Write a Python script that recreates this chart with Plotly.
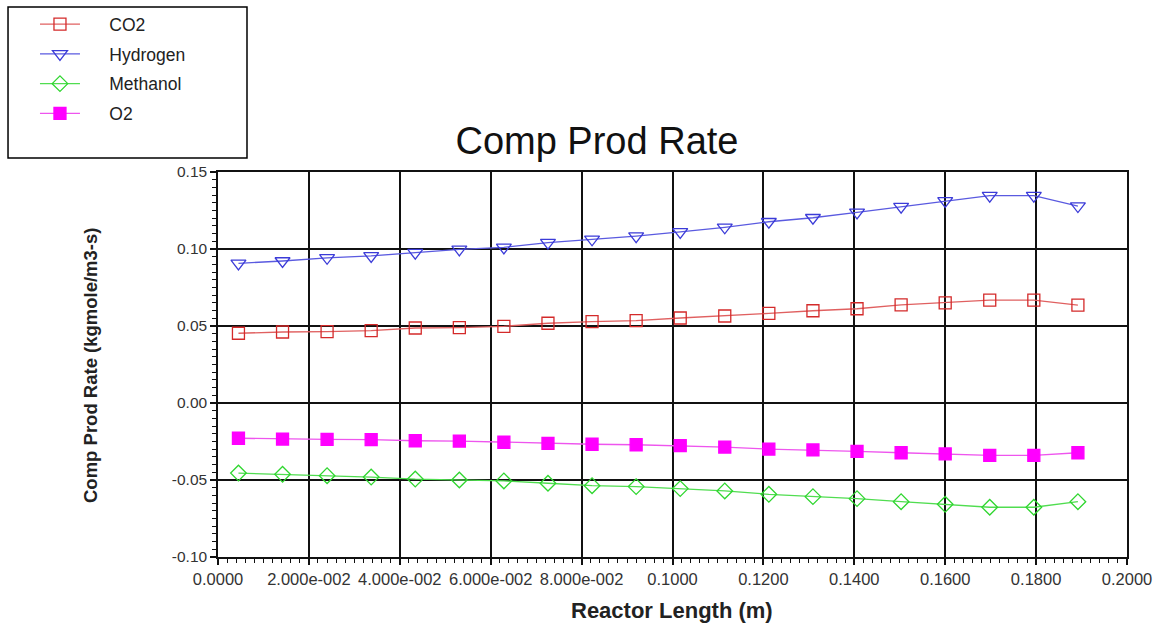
import plotly.graph_objects as go

# Reactor axial positions (m)
reactor_length = [0.0045, 0.0142, 0.0240, 0.0337, 0.0434, 0.0531, 0.0629, 0.0726, 0.0823, 0.0920,
                  0.1017, 0.1115, 0.1212, 0.1309, 0.1406, 0.1503, 0.1600, 0.1698, 0.1795, 0.1892]

# Component production rates (kgmole/m3-s)
co2 = [0.0453, 0.0461, 0.0464, 0.0470, 0.0487, 0.0490, 0.0498, 0.0518, 0.0528, 0.0535,
       0.0552, 0.0565, 0.0582, 0.0599, 0.0612, 0.0637, 0.0650, 0.0668, 0.0668, 0.0636]
hydrogen = [0.0907, 0.0922, 0.0943, 0.0955, 0.0976, 0.0998, 0.1011, 0.1041, 0.1063, 0.1084,
            0.1111, 0.1141, 0.1177, 0.1203, 0.1238, 0.1275, 0.1312, 0.1346, 0.1346, 0.1279]
methanol = [-0.0455, -0.0463, -0.0472, -0.0481, -0.0494, -0.0500, -0.0506, -0.0521, -0.0537, -0.0543,
            -0.0556, -0.0571, -0.0593, -0.0608, -0.0621, -0.0641, -0.0658, -0.0677, -0.0677, -0.0641]
o2 = [-0.0229, -0.0234, -0.0236, -0.0238, -0.0245, -0.0247, -0.0255, -0.0262, -0.0268, -0.0271,
      -0.0277, -0.0286, -0.0299, -0.0305, -0.0314, -0.0323, -0.0331, -0.0340, -0.0340, -0.0323]

x_tickvals = [0.0, 0.02, 0.04, 0.06, 0.08, 0.10, 0.12, 0.14, 0.16, 0.18, 0.20]
x_ticktext = ["0.0000", "2.000e-002", "4.000e-002", "6.000e-002", "8.000e-002",
              "0.1000", "0.1200", "0.1400", "0.1600", "0.1800", "0.2000"]
y_tickvals = [-0.10, -0.05, 0.00, 0.05, 0.10, 0.15]
y_ticktext = ["-0.10", "-0.05", "0.00", "0.05", "0.10", "0.15"]

x_title = "Reactor Length (m)"
y_title = "Comp Prod Rate (kgmole/m3-s)"

series = [
    ("CO2", co2, "#d42a2a", "#e06060", dict(symbol="square-open", size=12)),
    ("Hydrogen", hydrogen, "#3b3bd8", "#5a5ae0", dict(symbol="triangle-down-open", size=13)),
    ("Methanol", methanol, "#2fd62f", "#50dd50", dict(symbol="diamond-open", size=12)),
    ("O2", o2, "#ff00ff", "#ee55ee", dict(symbol="square", size=12)),
]

fig = go.Figure()
pad = "\u00a0" * 5
for name, vals, mcol, lcol, mk in series:
    fig.add_trace(go.Scatter(
        x=reactor_length, y=vals, name=pad + name, legendgroup=name,
        mode="lines+markers",
        line=dict(color=lcol, width=1.3),
        marker=dict(color=mcol, line=dict(color=mcol, width=1.3), **mk),
    ))

font_family = "Liberation Sans, Arial, sans-serif"

fig.update_layout(
    width=1158, height=626,
    margin=dict(l=218, r=31, t=172, b=69, autoexpand=False),
    paper_bgcolor="white", plot_bgcolor="white",
    font=dict(family=font_family, color="#222222"),
    title=dict(text="Comp Prod Rate", x=0.5155, xanchor="center", y=0.775, yanchor="middle",
               font=dict(size=38, color="#111111", family=font_family)),
    legend=dict(xref="container", yref="container", x=0.0302, xanchor="left", y=0.990, yanchor="top",
                bgcolor="rgba(0,0,0,0)", borderwidth=0, itemwidth=40,
                tracegroupgap=4, font=dict(size=17.5, color="#222222"),
                traceorder="grouped"),
    showlegend=True,
    shapes=[dict(type="rect", xref="paper", yref="paper",
                 x0=-0.2310, x1=0.0319, y0=1.0364, y1=1.4286,
                 line=dict(color="black", width=1.5), fillcolor="rgba(0,0,0,0)")],
    annotations=[
        dict(text="<b>" + x_title + "</b>", xref="paper", yref="paper", x=0.4994, y=-0.1377,
             xanchor="center", yanchor="middle", showarrow=False,
             font=dict(size=22, color="#222222")),
        dict(text="<b>" + y_title + "</b>", xref="paper", yref="paper", x=-0.1408, y=0.4987,
             xanchor="center", yanchor="middle", showarrow=False, textangle=-90,
             font=dict(size=18.5, color="#222222")),
    ],
)

fig.update_xaxes(
    range=[0, 0.2], tickvals=x_tickvals, ticktext=x_ticktext,
    showgrid=True, gridcolor="#111111", gridwidth=1.5,
    showline=True, linecolor="#111111", linewidth=1.5, mirror=True,
    ticks="outside", ticklen=6, tickcolor="#111111", tickwidth=1.5,
    minor=dict(dtick=0.002, ticks="outside", ticklen=4, tickcolor="#111111", tickwidth=1, showgrid=False),
    tickfont=dict(size=16.5, color="#333333"),
    zeroline=False,
)
fig.update_yaxes(
    range=[-0.10, 0.15], tickvals=y_tickvals, ticktext=y_ticktext,
    showgrid=True, gridcolor="#111111", gridwidth=1.5,
    showline=True, linecolor="#111111", linewidth=1.5, mirror=True,
    ticks="outside", ticklen=6, tickcolor="#111111", tickwidth=1.5,
    minor=dict(dtick=0.005, ticks="outside", ticklen=4, tickcolor="#111111", tickwidth=1, showgrid=False),
    tickfont=dict(size=15.5, color="#333333"),
    zeroline=False,
)

fig.write_html("out.html")
